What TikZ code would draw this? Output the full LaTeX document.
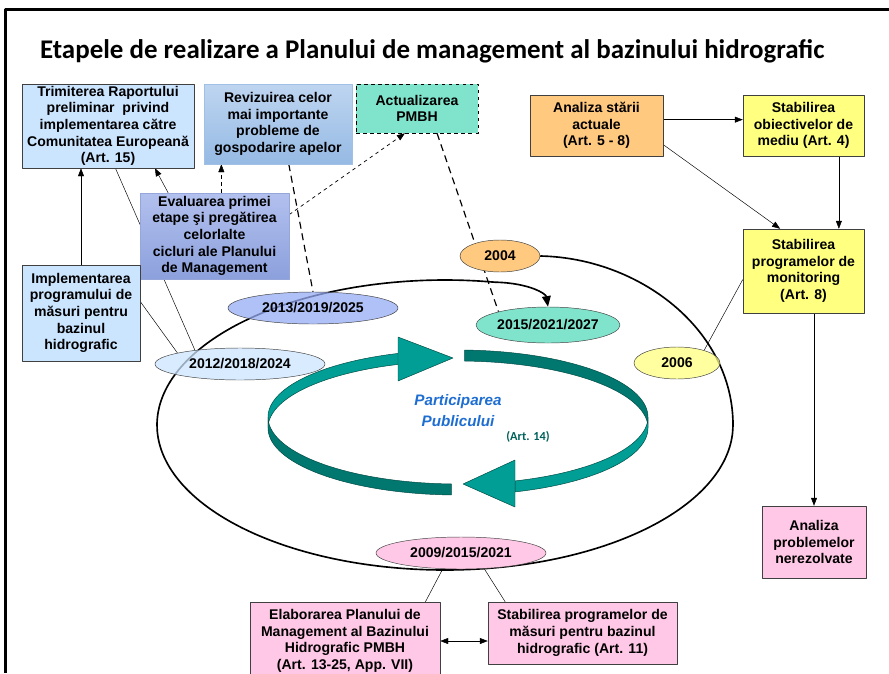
\documentclass[tikz,border=0pt]{standalone}
\usepackage{fontspec}
\setmainfont{Liberation Sans}
\newfontfamily\titlefont{Carlito}
\usetikzlibrary{shapes.geometric,arrows.meta,backgrounds}
\definecolor{bleu}{RGB}{204,229,255}
\definecolor{portoc}{RGB}{255,201,128}
\definecolor{galben}{RGB}{255,255,128}
\definecolor{roz}{RGB}{255,200,230}
\definecolor{verde}{RGB}{128,228,204}
\definecolor{albas}{RGB}{150,172,245}
\definecolor{teal1}{RGB}{0,158,148}
\definecolor{teal2}{RGB}{0,120,112}
\begin{document}
\begin{tikzpicture}[x=0.3mm,y=-0.3mm,line join=round,>={Triangle[length=2.4mm,width=1.8mm]},
	font=\bfseries\fontsize{12}{14.2}\selectfont,
	box/.style={draw=black!75,align=center,inner sep=0pt},
	elli/.style={ellipse,draw=black!75,inner sep=0pt},
	sz/.style 2 args={minimum width=#1*0.3mm,minimum height=#2*0.3mm},
	trans/.style={fill opacity=.75,text opacity=1}]
	\def\rcx{458} \def\rcy{417} \def\rrx{190} \def\rry{67} \def\rh{11}
	\def\band#1#2#3{\fill[#3,draw=teal2!60!black,line width=.4pt] plot[domain=#1:#2,samples=40,smooth] ({\rcx+\rrx*cos(\x)},{\rcy+\rry*sin(\x)}) -- plot[domain=#2:#1,samples=40,smooth] ({\rcx+\rrx*cos(\x)},{\rcy+\rh+\rry*sin(\x)}) -- cycle;}
	\useasboundingbox (0,0) rectangle (889,673);
	\draw[line width=0.9mm] (5,673)--(5,10)--(889,10);
	\node[anchor=west,font=\titlefont\bfseries\fontsize{23}{28}\selectfont] (titlu) at (36,51) {Etapele de realizare a Planului de management al bazinului hidrografic};
	% casete
	\node[box,sz={172}{84},fill=bleu] (trimit) at (108,126) {Trimiterea Raportului\\preliminar\ \ privind\\implementarea către\\Comunitatea Europeană\\(Art. 15)};
	\node[box,sz={148}{80},top color={rgb,255:red,190;green,213;blue,240},bottom color={rgb,255:red,150;green,186;blue,228},draw={rgb,255:red,160;green,192;blue,230}] (reviz) at (278,124) {Revizuirea celor\\mai importante\\probleme de\\gospodarire apelor};
	\node[box,sz={122}{49},fill=verde,dashed,draw=black] (actual) at (417,108.5) {Actualizarea\\PMBH};
	\node[box,sz={133}{61},fill=portoc] (analiza) at (596.5,125.5) {Analiza stării\\actuale\\(Art. 5 - 8)};
	\node[box,sz={121}{61},fill=galben] (obiect) at (803.5,125.5) {Stabilirea\\obiectivelor de\\mediu (Art. 4)};
	\node[box,sz={121}{84},fill=galben] (monit) at (803.5,271) {Stabilirea\\programelor de\\monitoring\\(Art. 8)};
	\node[box,sz={149}{86},top color={rgb,255:red,178;green,192;blue,238},bottom color={rgb,255:red,140;green,160;blue,220},draw={rgb,255:red,150;green,166;blue,218}] (evalu) at (214.5,236) {Evaluarea primei\\etape şi pregătirea\\celorlalte\\cicluri ale Planului\\de Management};
	\node[box,sz={118}{96},fill=bleu] (implem) at (81,313) {Implementarea\\programului de\\măsuri pentru\\bazinul\\hidrografic};
	\node[box,sz={104}{72},fill=roz] (nerez) at (814,542) {Analiza\\problemelor\\nerezolvate};
	\node[box,sz={190}{78},fill=roz] (elabor) at (345,641) {Elaborarea Planului de\\Management al Bazinului\\Hidrografic PMBH\\(Art. 13-25, App. VII)};
	\node[box,sz={189}{62},fill=roz] (masuri) at (582.5,633) {Stabilirea programelor de\\măsuri pentru bazinul\\hidrografic (Art. 11)};
	% elipse
	\node[elli,sz={80}{32},fill=portoc] (e2004) at (500,256) {2004};
	\node[elli,trans,sz={170}{32},fill=albas] (e2013) at (313,308) {2013/2019/2025};
	\node[elli,sz={144}{36},fill=verde] (e2015) at (548,325) {2015/2021/2027};
	\node[elli,trans,sz={170}{32},fill=bleu] (e2012) at (240,364) {2012/2018/2024};
	\node[elli,trans,sz={86}{32},fill=galben] (e2006) at (677,363) {2006};
	\node[elli,sz={170}{32},fill=roz] (e2009) at (461,553) {2009/2015/2021};
	% sageata circulara
	\band{180}{252}{teal1}
	\band{272}{360}{teal2}
	\band{92}{180}{teal2}
	\band{360}{432.5}{teal1}
	\fill[teal1,draw=teal2!60!black,line width=.4pt] (398,337)--(453,358)--(398,381)--cycle;
	\fill[teal1,draw=teal2!60!black,line width=.4pt] (515,460)--(463,484)--(515,507)--cycle;
	\node[font=\bfseries\itshape\fontsize{13}{18}\selectfont,text={rgb,255:red,30;green,110;blue,210},align=center] (publ) at (458,411) {Participarea\\Publicului};
	\node[font=\titlefont\bfseries\fontsize{10.5}{12}\selectfont,text=teal2!80!black] (art14) at (528,437) {(Art. 14)};
	\begin{scope}[on background layer,line width=.8pt]
		\draw[line width=1.4pt,-{Triangle[length=3.2mm,width=2.6mm]}] (e2004.east) .. controls (640,258) and (733,330) .. (733,425)
			-- plot[domain=0:280,samples=80,smooth] ({445+288*cos(\x)},{425+145*sin(\x)})
			.. controls (530,283) and (546,294) .. (e2015.north);
		\draw[->] (implem.north) -- (implem.north |- trimit.south);
		\draw (trimit.-80) -- (e2012.163);
		\draw[->] (evalu.137) -- (trimit.-42);
		\draw[dashed,->] (evalu.81) -- (evalu.81 |- reviz.south);
		\draw[dashed,line width=.6pt,->] (evalu.16) -- (actual.-116);
		\draw[dash pattern=on 6pt off 4pt,line width=1pt] (reviz.-75) -- (e2013.north);
		\draw[dash pattern=on 6pt off 4pt,line width=1pt] (actual.-51) -- (e2015.165);
		\draw (implem.11) -- (e2012.170);
		\draw[->] (analiza.5) -- (analiza.5 -| obiect.west);
		\draw[->] (analiza.-16) -- (monit.119);
		\draw[->] (obiect.-41) -- (obiect.-41 |- monit.north);
		\draw (monit.188) -- (e2006.25);
		\draw[->] (monit.south -| nerez.north) -- (nerez.north);
		\draw (e2009.221) -- (elabor.26);
		\draw (e2009.-34) -- (masuri.158);
		\draw[<->] (elabor.east) -- (elabor.east -| masuri.west);
	\end{scope}
\end{tikzpicture}
\end{document}
